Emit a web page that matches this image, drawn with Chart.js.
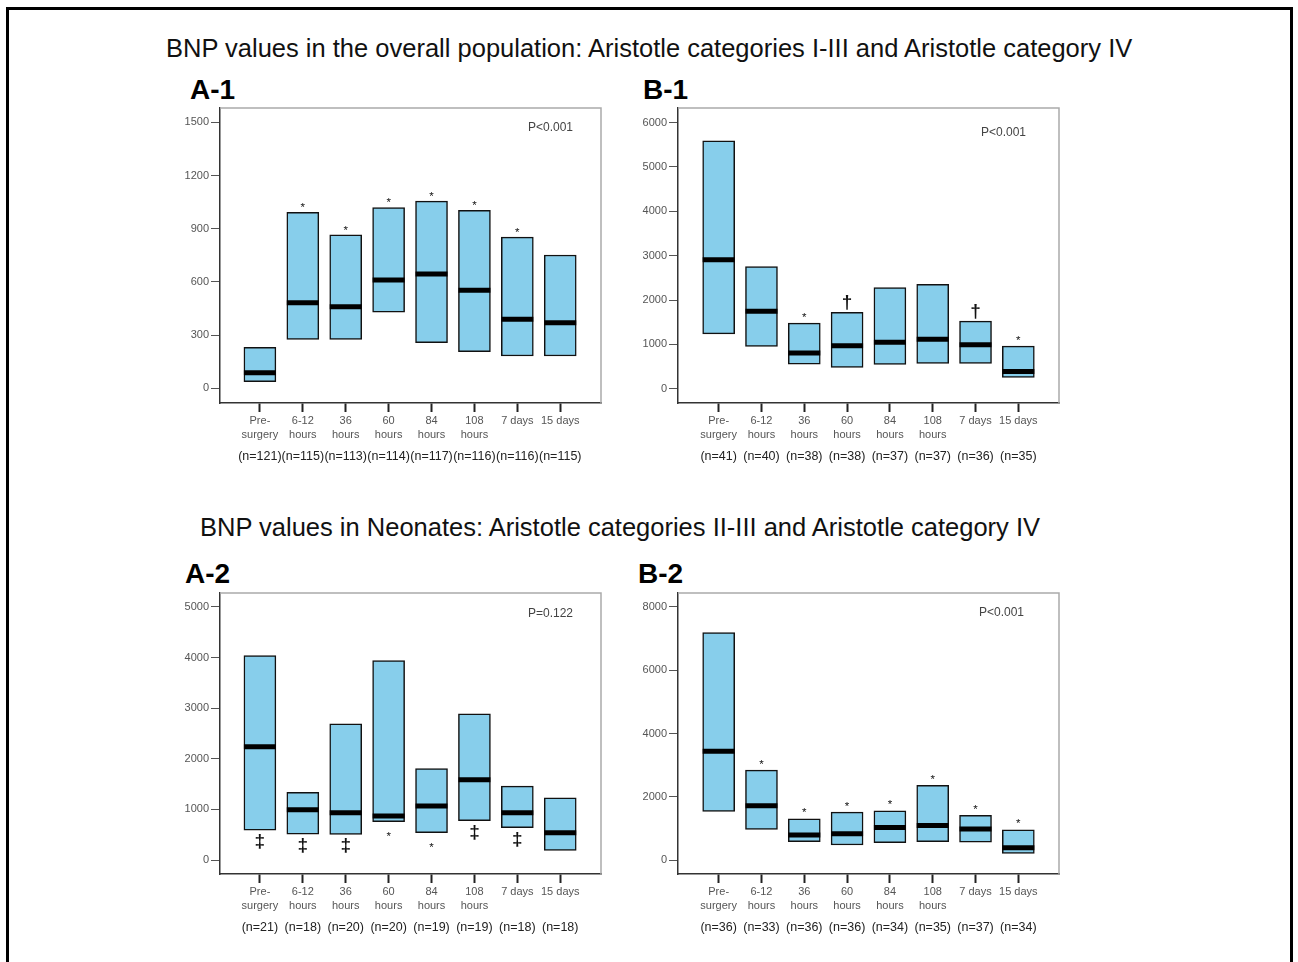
<!DOCTYPE html>
<html>
<head>
<meta charset="utf-8">
<script src="https://cdn.jsdelivr.net/npm/chart.js@4.4.1/dist/chart.umd.min.js"></script>
<style>
  body { margin: 0; background: #fff; width: 1298px; height: 962px; overflow: hidden; position: relative;
         font-family: 'Liberation Sans', Arial, sans-serif; }
  .outer { position: absolute; left: 6px; top: 7px; width: 1281px; height: 1000px; border: 3px solid #000; }
  .title { position: absolute; font-size: 25.5px; line-height: 26px; color: #111; white-space: nowrap; }
  .tag { position: absolute; font-size: 28px; line-height: 28px; font-weight: bold; color: #000; }
  canvas { position: absolute; }
</style>
</head>
<body>
<div class="outer"></div>
<div class="title" style="left:166px; top:35px;">BNP values in the overall population: Aristotle categories I-III and Aristotle category IV</div>
<div class="title" style="left:200px; top:514px;">BNP values in Neonates: Aristotle categories II-III and Aristotle category IV</div>
<div class="tag" style="left:190px; top:76px;">A-1</div>
<div class="tag" style="left:643px; top:76px;">B-1</div>
<div class="tag" style="left:185px; top:560px;">A-2</div>
<div class="tag" style="left:638px; top:560px;">B-2</div>

<canvas id="chartA1"></canvas>
<canvas id="chartB1"></canvas>
<canvas id="chartA2"></canvas>
<canvas id="chartB2"></canvas>

<script>
// time points (x axis)
const xLabels = [['Pre-', 'surgery'], ['6-12', 'hours'], ['36', 'hours'], ['60', 'hours'],
                 ['84', 'hours'], ['108', 'hours'], ['7 days'], ['15 days']];

// A-1 : overall population, Aristotle I-III
const a1Low    = [38, 276, 276, 429, 258, 207, 182, 182];
const a1High   = [231, 992, 865, 1019, 1056, 1004, 853, 752];
const a1Median = [88, 483, 460, 611, 645, 553, 389, 370];
const a1N      = ['(n=121)', '(n=115)', '(n=113)', '(n=114)', '(n=117)', '(n=116)', '(n=116)', '(n=115)'];
const a1Marks  = ['', '*', '*', '*', '*', '*', '*', ''];
const a1Ticks  = [0, 300, 600, 900, 1200, 1500];

// B-1 : overall population, Aristotle IV
const b1Low    = [1238, 953, 555, 480, 548, 570, 570, 255];
const b1High   = [5588, 2753, 1478, 1725, 2280, 2355, 1523, 960];
const b1Median = [2910, 1748, 803, 968, 1050, 1118, 990, 390];
const b1N      = ['(n=41)', '(n=40)', '(n=38)', '(n=38)', '(n=37)', '(n=37)', '(n=36)', '(n=35)'];
const b1Marks  = ['', '', '*', '†', '', '', '†', '*'];
const b1Ticks  = [0, 1000, 2000, 3000, 4000, 5000, 6000];

// A-2 : neonates, Aristotle II-III
const a2Low    = [592, 513, 507, 757, 539, 776, 638, 191];
const a2High   = [4040, 1336, 2691, 3941, 1809, 2888, 1461, 1230];
const a2Median = [2237, 993, 934, 868, 1066, 1586, 934, 539];
const a2N      = ['(n=21)', '(n=18)', '(n=20)', '(n=20)', '(n=19)', '(n=19)', '(n=18)', '(n=18)'];
const a2Marks  = ['‡', '‡', '‡', '*', '*', '‡', '‡', ''];
const a2Ticks  = [0, 1000, 2000, 3000, 4000, 5000];

// B-2 : neonates, Aristotle IV
const b2Low    = [1537, 968, 579, 474, 547, 579, 568, 211];
const b2High   = [7189, 2842, 1305, 1516, 1558, 2358, 1411, 958];
const b2Median = [3442, 1716, 789, 832, 1032, 1095, 979, 389];
const b2N      = ['(n=36)', '(n=33)', '(n=36)', '(n=36)', '(n=34)', '(n=35)', '(n=37)', '(n=34)'];
const b2Marks  = ['', '*', '*', '*', '*', '*', '*', '*'];
const b2Ticks  = [0, 2000, 4000, 6000, 8000];

const FONT = "'Liberation Sans', Arial, sans-serif";
const BOX_FILL = 'rgb(135, 206, 235)';
const AXIS_W = 60;   // y axis width
const AXIS_H = 72;   // x axis height (labels + n row)
const PAD = 12;

// frame, P value, n row and significance marks
const extras = {
  id: 'extras',
  afterDatasetsDraw(chart, args, o) {
    const { ctx, chartArea: a, scales: { x, y } } = chart;
    ctx.save();

    // light top / right edges of the frame
    ctx.strokeStyle = '#aaa';
    ctx.lineWidth = 1.5;
    ctx.beginPath();
    ctx.moveTo(a.left, a.top);
    ctx.lineTo(a.right, a.top);
    ctx.lineTo(a.right, a.bottom);
    ctx.stroke();

    // P value
    ctx.fillStyle = '#444';
    ctx.font = '12px ' + FONT;
    ctx.textAlign = 'right';
    ctx.textBaseline = 'middle';
    ctx.fillText(o.pText, a.right - o.pRight, a.top + o.pTop);

    // significance marks
    ctx.textAlign = 'center';
    ctx.textBaseline = 'alphabetic';
    ctx.fillStyle = '#111';
    o.marks.forEach((m, i) => {
      if (!m) return;
      const px = x.getPixelForValue(i);
      const star = m === '*';
      const size = star ? 11.5 : 19;
      ctx.font = (star ? '' : 'bold ') + size + 'px ' + FONT;
      const lift = star ? 0.58 * size : 0.26 * size;   // glyph centre above baseline
      const edge = o.side === 'top'
        ? y.getPixelForValue(o.high[i]) - o.gap
        : y.getPixelForValue(o.low[i]) + o.gap;
      ctx.fillText(m, px, edge + lift);
    });

    // sample sizes
    ctx.font = '12.5px ' + FONT;
    ctx.fillStyle = '#222';
    ctx.textBaseline = 'middle';
    o.n.forEach((t, i) => ctx.fillText(t, x.getPixelForValue(i), a.bottom + 54));
    ctx.restore();
  }
};

function makePanel(p) {
  const canvas = document.getElementById(p.id);
  canvas.width = p.w + AXIS_W + PAD;
  canvas.height = p.h + AXIS_H + PAD;
  canvas.style.left = (p.left - AXIS_W) + 'px';
  canvas.style.top = (p.top - PAD) + 'px';

  new Chart(canvas, {
    type: 'bar',
    data: {
      datasets: [
        {
          type: 'scatter',
          order: 0,
          data: p.median.map((m, i) => ({ x: i, y: m })),
          pointStyle: 'line',
          pointRadius: 16,
          pointHoverRadius: 16,
          pointBorderWidth: 5,
          pointBorderColor: '#000',
          pointBackgroundColor: '#000'
        },
        {
          type: 'bar',
          order: 1,
          data: p.low.map((lo, i) => ({ x: i, y: [lo, p.high[i]] })),
          backgroundColor: BOX_FILL,
          borderColor: '#111',
          borderWidth: 1.5,
          borderSkipped: false,
          barThickness: 32
        }
      ]
    },
    options: {
      responsive: false,
      animation: false,
      events: [],
      layout: { autoPadding: false, padding: { top: PAD, right: PAD, left: 0, bottom: 0 } },
      scales: {
        x: {
          type: 'linear',
          min: p.xMin,
          max: p.xMax,
          offset: false,
          afterBuildTicks: s => { s.ticks = xLabels.map((_, i) => ({ value: i })); },
          afterFit: s => { s.height = AXIS_H; s.paddingLeft = 0; s.paddingRight = 0; },
          border: { color: '#333', width: 1.5 },
          grid: { drawOnChartArea: false, offset: false, tickLength: 9, tickWidth: 2, tickColor: '#222' },
          ticks: {
            autoSkip: false, maxRotation: 0, padding: 2, color: '#555',
            font: { size: 11, family: FONT, lineHeight: 1.27 },
            callback: (v, i) => xLabels[i]
          }
        },
        y: {
          type: 'linear',
          min: p.yMin,
          max: p.yMax,
          afterBuildTicks: s => { s.ticks = p.yTicks.map(v => ({ value: v })); },
          afterFit: s => { s.width = AXIS_W; s.paddingTop = 0; s.paddingBottom = 0; },
          border: { color: '#333', width: 1.5 },
          grid: { drawOnChartArea: false, tickLength: 9, tickWidth: 1, tickColor: '#555' },
          ticks: { padding: 2, color: '#555', font: { size: 11, family: FONT }, callback: v => String(v) }
        }
      },
      plugins: {
        legend: { display: false },
        tooltip: { enabled: false },
        extras: {
          pText: p.pText, pRight: p.pRight, pTop: p.pTop,
          marks: p.marks, side: p.side, gap: p.gap,
          low: p.low, high: p.high, n: p.n
        }
      }
    },
    plugins: [extras]
  });
}

makePanel({ id: 'chartA1', left: 220, top: 108, w: 381, h: 295,
  xMin: -0.93, xMax: 7.95, yMin: -83, yMax: 1581, yTicks: a1Ticks,
  low: a1Low, high: a1High, median: a1Median, n: a1N,
  marks: a1Marks, side: 'top', gap: 8, pText: 'P<0.001', pRight: 28, pTop: 20 });

makePanel({ id: 'chartB1', left: 678, top: 108, w: 381, h: 295,
  xMin: -0.95, xMax: 7.95, yMin: -322, yMax: 6329, yTicks: b1Ticks,
  low: b1Low, high: b1High, median: b1Median, n: b1N,
  marks: b1Marks, side: 'top', gap: 9, pText: 'P<0.001', pRight: 33, pTop: 25 });

makePanel({ id: 'chartA2', left: 220, top: 593, w: 381, h: 281,
  xMin: -0.93, xMax: 7.95, yMin: -276, yMax: 5276, yTicks: a2Ticks,
  low: a2Low, high: a2High, median: a2Median, n: a2N,
  marks: a2Marks, side: 'bottom', gap: 12, pText: 'P=0.122', pRight: 28, pTop: 21 });

makePanel({ id: 'chartB2', left: 678, top: 593, w: 381, h: 281,
  xMin: -0.95, xMax: 7.95, yMin: -442, yMax: 8442, yTicks: b2Ticks,
  low: b2Low, high: b2High, median: b2Median, n: b2N,
  marks: b2Marks, side: 'top', gap: 9, pText: 'P<0.001', pRight: 35, pTop: 20 });
</script>
</body>
</html>
